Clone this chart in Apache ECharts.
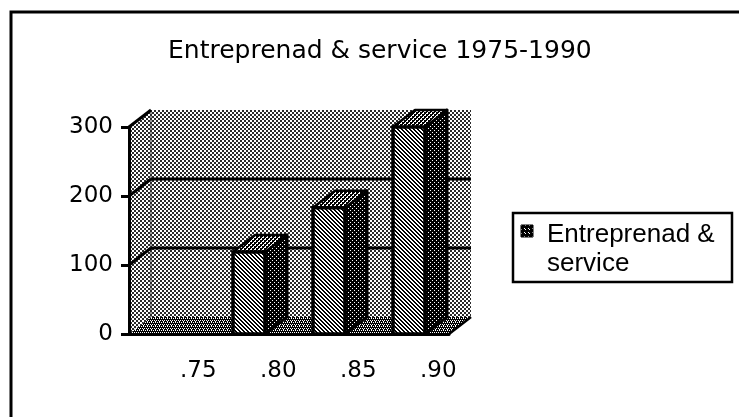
<!DOCTYPE html>
<html>
<head>
<meta charset="utf-8">
<script src="https://cdn.jsdelivr.net/npm/echarts@6/dist/echarts.min.js"></script>
<style>
  html, body { margin: 0; padding: 0; background: #fff; }
  #chart { width: 739px; height: 417px; }
</style>
</head>
<body>
<div id="chart"></div>
<script>
// data
const years = ['.75', '.80', '.85', '.90'];
const values = [0, 119, 183, 300];
const yTicks = [0, 100, 200, 300];
const seriesName = 'Entreprenad & service';

// 3d depth offset of the box (px)
const DX = 22;
const DY = -17;

// little dither patterns, like the old printer shades
function makePattern(size, bg, fg, pixels) {
    const c = document.createElement('canvas');
    c.width = size;
    c.height = size;
    const ctx = c.getContext('2d');
    ctx.fillStyle = bg;
    ctx.fillRect(0, 0, size, size);
    ctx.fillStyle = fg;
    pixels.forEach(p => ctx.fillRect(p[0], p[1], p[2] || 1, p[3] || 1));
    return { image: c, repeat: 'repeat' };
}

const wallPat = makePattern(4, '#fff', '#2a2a2a', [[0, 0, 2, 2], [2, 2, 2, 2]]);
const floorPat = makePattern(4, '#000', '#fff', [[0, 0], [2, 0], [1, 2], [3, 2], [3, 1]]);
const frontPat = makePattern(4, '#fff', '#000', [[0, 0], [1, 0], [1, 1], [2, 1], [2, 2], [3, 2], [3, 3], [0, 3]]);
const sidePat = makePattern(4, '#000', '#fff', [[0, 0], [2, 2]]);
const topPat = makePattern(4, '#fff', '#000', [[0, 0, 2, 2], [2, 2, 2, 2], [2, 0], [0, 2]]);
const legendPat = makePattern(4, '#000', '#fff', [[0, 0], [1, 1]]);

function renderWall(params, api) {
    const cs = params.coordSys;
    const L = cs.x;
    const R = cs.x + cs.width;
    const B = api.coord([0, yTicks[0]])[1];
    const T = api.coord([0, yTicks[yTicks.length - 1]])[1];
    const children = [
        {
            type: 'polygon',
            shape: { points: [[L, B], [L, T], [L + DX, T + DY], [L + DX, B + DY]] },
            style: { fill: wallPat }
        },
        {
            type: 'rect',
            shape: { x: L + DX, y: T + DY, width: R - L, height: B - T },
            style: { fill: wallPat }
        },
        {
            type: 'polygon',
            shape: { points: [[L, B], [R, B], [R + DX, B + DY], [L + DX, B + DY]] },
            style: { fill: floorPat }
        },
        {
            type: 'line',
            shape: { x1: L + DX, y1: T + DY, x2: L + DX, y2: B + DY },
            style: { stroke: '#333', lineWidth: 1 }
        },
        {
            type: 'line',
            shape: { x1: R, y1: B, x2: R + DX, y2: B + DY },
            style: { stroke: '#000', lineWidth: 2.5 }
        }
    ];
    yTicks.forEach(v => {
        if (v === yTicks[0]) return;
        const y = api.coord([0, v])[1];
        children.push({
            type: 'line',
            shape: { x1: L, y1: y, x2: L + DX, y2: y + DY },
            style: { stroke: '#000', lineWidth: 3 }
        });
        if (v < yTicks[yTicks.length - 1]) {
            children.push({
                type: 'line',
                shape: { x1: L + DX, y1: y + DY, x2: R + DX, y2: y + DY },
                style: { stroke: '#000', lineWidth: 3 }
            });
        }
    });
    return { type: 'group', children: children };
}

function renderBar(params, api) {
    const v = api.value(1);
    if (!v) return null;
    const top = api.coord([api.value(0), v]);
    const base = api.coord([api.value(0), 0]);
    const half = api.size([1, 0])[0] * 0.2;
    const x0 = top[0] - half;
    const x1 = top[0] + half;
    const yt = top[1];
    const yb = base[1];
    return {
        type: 'group',
        children: [
            {
                type: 'polygon',
                shape: { points: [[x1, yb], [x1, yt], [x1 + DX, yt + DY], [x1 + DX, yb + DY]] },
                style: { fill: sidePat, stroke: '#000', lineWidth: 3, lineJoin: 'round' }
            },
            {
                type: 'polygon',
                shape: { points: [[x0, yt], [x1, yt], [x1 + DX, yt + DY], [x0 + DX, yt + DY]] },
                style: { fill: topPat, stroke: '#000', lineWidth: 2.5, lineJoin: 'round' }
            },
            {
                type: 'rect',
                shape: { x: x0, y: yt, width: x1 - x0, height: yb - yt },
                style: { fill: frontPat, stroke: '#000', lineWidth: 3.5 }
            }
        ]
    };
}

const myChart = echarts.init(document.getElementById('chart'), null, { renderer: 'canvas' });

const labelFont = {
    fontFamily: '"DejaVu Sans"',
    fontSize: 23,
    color: '#000'
};

const option = {
    backgroundColor: '#fff',
    animation: false,
    title: {
        text: 'Entreprenad & service 1975-1990',
        left: 168,
        top: 39,
        padding: 0,
        textStyle: {
            fontFamily: '"DejaVu Sans"',
            fontSize: 25,
            fontWeight: 'normal',
            color: '#000'
        }
    },
    grid: {
        left: 129,
        right: 290,
        top: 127,
        bottom: 83
    },
    xAxis: {
        type: 'category',
        data: years,
        z: 10,
        axisLine: { lineStyle: { color: '#000', width: 3 } },
        axisTick: { length: 8, lineStyle: { color: '#000', width: 3 } },
        axisLabel: Object.assign({ align: 'left', padding: [0, 0, 0, 11], margin: 26 }, labelFont),
        splitLine: { show: false }
    },
    yAxis: {
        type: 'value',
        min: yTicks[0],
        max: yTicks[yTicks.length - 1],
        interval: 100,
        z: 10,
        axisLine: { show: true, lineStyle: { color: '#000', width: 3 } },
        axisTick: { show: true, length: 8, lineStyle: { color: '#000', width: 3 } },
        axisLabel: Object.assign({ margin: 16 }, labelFont),
        splitLine: { show: false }
    },
    graphic: [
        {
            type: 'rect',
            shape: { x: 11, y: 12, width: 800, height: 500 },
            style: { fill: null, stroke: '#000', lineWidth: 3 }
        },
        {
            type: 'rect',
            shape: { x: 513, y: 213, width: 219, height: 69 },
            style: { fill: '#fff', stroke: '#000', lineWidth: 2.5 }
        },
        {
            type: 'rect',
            shape: { x: 521, y: 225, width: 12, height: 12 },
            style: { fill: legendPat, stroke: '#000', lineWidth: 1 }
        },
        {
            type: 'text',
            x: 547,
            y: 235,
            style: { text: 'Entreprenad &', font: '26px "Liberation Sans"', fill: '#000', verticalAlign: 'middle' }
        },
        {
            type: 'text',
            x: 547,
            y: 264,
            style: { text: 'service', font: '26px "Liberation Sans"', fill: '#000', verticalAlign: 'middle' }
        }
    ],
    series: [
        {
            name: 'wall',
            type: 'custom',
            renderItem: renderWall,
            data: [[0, 0]],
            silent: true,
            z: 1
        },
        {
            name: seriesName,
            type: 'custom',
            renderItem: renderBar,
            data: values.map((v, i) => [i, v]),
            z: 3
        }
    ]
};

myChart.setOption(option);
</script>
</body>
</html>
